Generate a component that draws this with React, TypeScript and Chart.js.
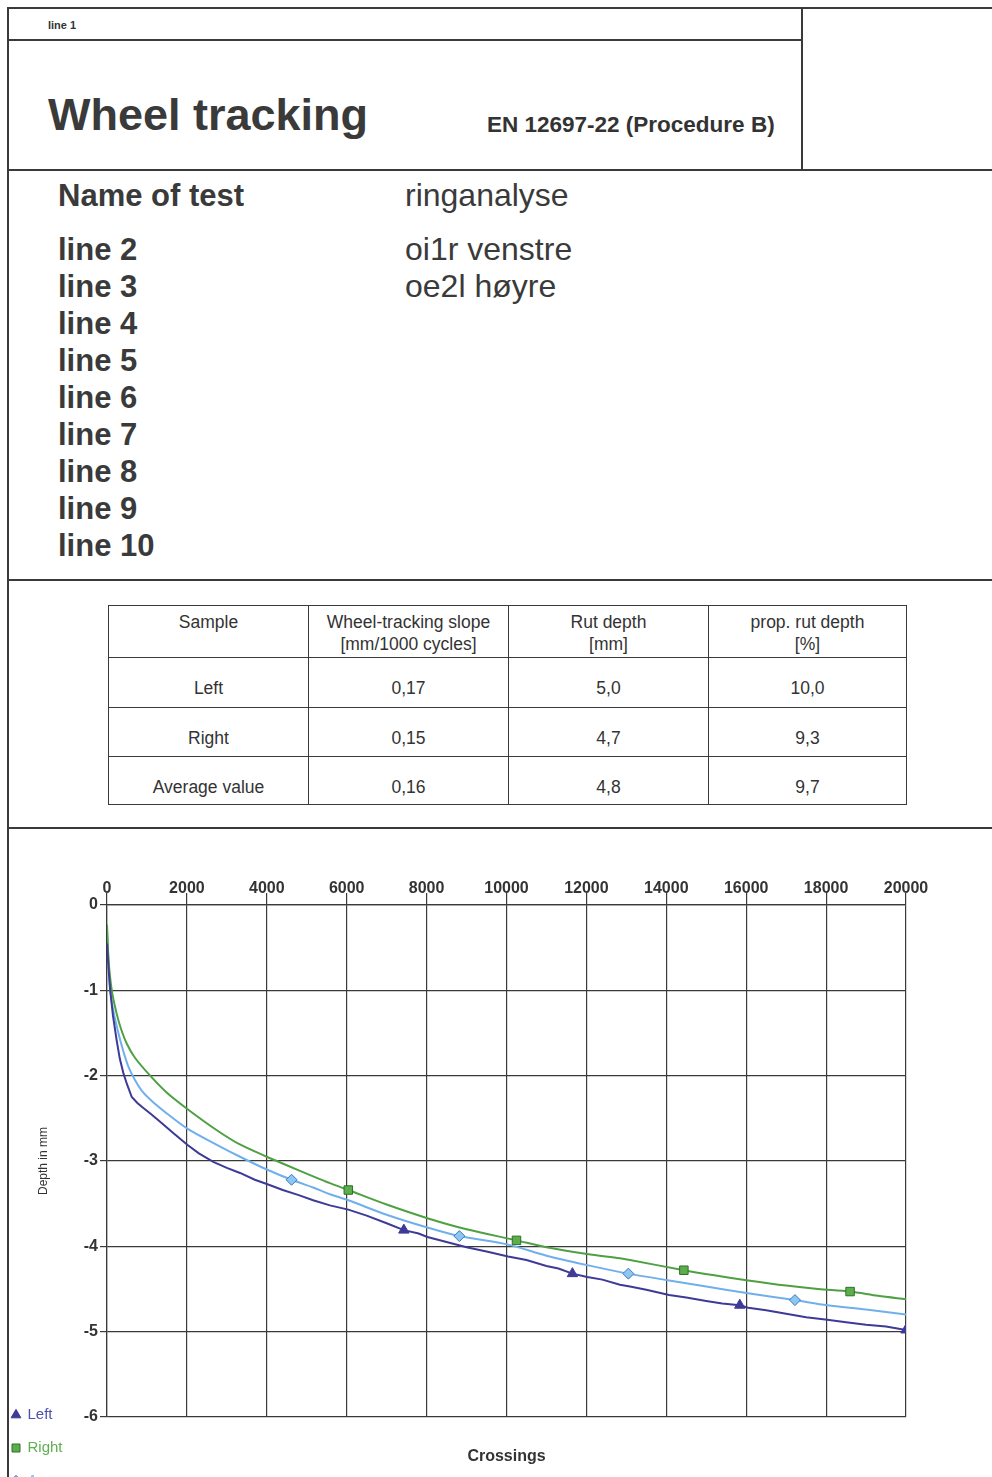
import React, { useEffect, useRef } from "react";
import { Chart, registerables } from "chart.js";

Chart.register(...registerables);

// ---------- data ----------
const SERIES_NAMES = ["Left", "Right", "Average"];

const LEFT_CROSSINGS = [0, 40, 80, 150, 240, 320, 410, 500, 620, 760, 910, 1100, 1330, 1650, 2010, 2300, 2660, 3000, 3330, 3700, 4000, 4400, 4800, 5160, 5580, 6040, 6500, 7000, 7430, 7800, 8020, 8500, 9000, 9500, 10040, 10500, 11000, 11300, 11650, 12020, 12400, 12840, 13090, 13500, 14070, 14500, 15000, 15400, 15840, 16050, 16500, 17000, 17500, 18030, 18500, 19000, 19500, 20000];
const LEFT_DEPTH = [-0.45, -0.75, -1.0, -1.3, -1.58, -1.8, -1.97, -2.1, -2.25, -2.32, -2.38, -2.45, -2.54, -2.67, -2.81, -2.91, -3.01, -3.08, -3.14, -3.22, -3.27, -3.34, -3.4, -3.46, -3.52, -3.57, -3.64, -3.73, -3.81, -3.85, -3.89, -3.95, -4.01, -4.06, -4.12, -4.16, -4.23, -4.26, -4.32, -4.36, -4.39, -4.45, -4.47, -4.51, -4.57, -4.6, -4.64, -4.67, -4.69, -4.72, -4.75, -4.79, -4.83, -4.86, -4.89, -4.92, -4.94, -4.98];

const RIGHT_CROSSINGS = [0, 40, 120, 240, 350, 490, 700, 1080, 1500, 2010, 2750, 3300, 4000, 4500, 5160, 5580, 6040, 7000, 8020, 9000, 10250, 11000, 12020, 12840, 13090, 14440, 15200, 16050, 17000, 17800, 18600, 19300, 20000];
const RIGHT_DEPTH = [-0.23, -0.65, -1.0, -1.27, -1.45, -1.62, -1.79, -2.0, -2.2, -2.39, -2.64, -2.8, -2.95, -3.05, -3.18, -3.26, -3.34, -3.51, -3.67, -3.8, -3.93, -4.01, -4.09, -4.14, -4.16, -4.28, -4.34, -4.4, -4.46, -4.5, -4.53, -4.58, -4.62];

const AVG_CROSSINGS = [0, 40, 80, 150, 285, 400, 540, 700, 910, 1200, 1490, 2010, 2750, 3330, 4000, 4620, 5160, 5580, 6040, 7000, 8020, 8820, 10040, 11000, 12020, 13050, 14070, 15000, 16050, 17220, 18030, 19000, 20000];
const AVG_DEPTH = [-0.29, -0.7, -1.0, -1.22, -1.5, -1.7, -1.9, -2.05, -2.2, -2.33, -2.44, -2.62, -2.81, -2.95, -3.1, -3.22, -3.31, -3.39, -3.46, -3.63, -3.78, -3.88, -3.98, -4.11, -4.22, -4.32, -4.4, -4.47, -4.55, -4.63, -4.69, -4.74, -4.8];

const LEFT_MARKERS = [7430, 11650, 15840, 20000];
const RIGHT_MARKERS = [6040, 10250, 14440, 18600];
const AVG_MARKERS = [4620, 8820, 13050, 17220];

const X_MIN = 0;
const X_MAX = 20000;
const X_STEP = 2000;
const Y_MIN = -6;
const Y_MAX = 0;
const Y_STEP = 1;

const X_TITLE = "Crossings";
const Y_TITLE = "Depth in mm";

const TABLE_HEADERS = [["Sample"], ["Wheel-tracking slope", "[mm/1000 cycles]"], ["Rut depth", "[mm]"], ["prop. rut depth", "[%]"]];
const TABLE_SAMPLES = ["Left", "Right", "Average value"];
const TABLE_SLOPE = ["0,17", "0,15", "0,16"];
const TABLE_RUT = ["5,0", "4,7", "4,8"];
const TABLE_PROP = ["10,0", "9,3", "9,7"];

const INFO_LABELS = ["line 2", "line 3", "line 4", "line 5", "line 6", "line 7", "line 8", "line 9", "line 10"];
const INFO_VALUES = ["oi1r venstre", "oe2l høyre"];

// ---------- styles ----------
const FONT = '"Liberation Sans", Arial, Helvetica, sans-serif';
const NAVY = "#3d3a98";
const GREEN = "#4fa043";
const LIGHT = "#6fb0ec";
const TEXT = "#333";
const LINE = "#3a3a3a";
const LEGEND_TEXT = ["#4f4fae", "#5fae52", "#7ab6ee"];

const toPoints = (xs: number[], ys: number[]) => xs.map((x, i) => ({ x, y: ys[i] }));

function ChartBlock() {
  const ref = useRef<HTMLCanvasElement | null>(null);
  useEffect(() => {
    if (!ref.current) return;
    const markerRadius = (list: number[], r: number) => (ctx: any) =>
      ctx.raw && list.includes(ctx.raw.x) ? r : 0;
    const chart = new Chart(ref.current, {
      type: "line",
      data: {
        datasets: [
          {
            label: SERIES_NAMES[0],
            data: toPoints(LEFT_CROSSINGS, LEFT_DEPTH),
            borderColor: NAVY,
            backgroundColor: NAVY,
            borderWidth: 2,
            tension: 0,
            pointStyle: "triangle",
            pointBackgroundColor: NAVY,
            pointBorderColor: NAVY,
            pointBorderWidth: 1,
            pointRadius: markerRadius(LEFT_MARKERS, 6),
          },
          {
            label: SERIES_NAMES[1],
            data: toPoints(RIGHT_CROSSINGS, RIGHT_DEPTH),
            borderColor: GREEN,
            backgroundColor: "#5cae4c",
            borderWidth: 2,
            tension: 0.3,
            pointStyle: "rect",
            pointBackgroundColor: "#5cae4c",
            pointBorderColor: "#2f6f2a",
            pointBorderWidth: 1,
            pointRadius: markerRadius(RIGHT_MARKERS, 6),
          },
          {
            label: SERIES_NAMES[2],
            data: toPoints(AVG_CROSSINGS, AVG_DEPTH),
            borderColor: LIGHT,
            backgroundColor: "#8ec6f2",
            borderWidth: 2,
            tension: 0.3,
            pointStyle: "rectRot",
            pointBackgroundColor: "#8ec6f2",
            pointBorderColor: "#3a78c0",
            pointBorderWidth: 1,
            pointRadius: markerRadius(AVG_MARKERS, 5.5),
          },
        ],
      },
      options: {
        animation: false,
        responsive: false,
        devicePixelRatio: 1,
        layout: { padding: { left: 0, right: 86, top: 45, bottom: 13.5 } },
        plugins: {
          tooltip: { enabled: false },
          legend: {
            display: true,
            position: "left",
            align: "end",
            maxWidth: 83,
            labels: {
              usePointStyle: true,
              boxWidth: 8,
              boxHeight: 8,
              padding: 18,
              font: { family: FONT, size: 15 },
              generateLabels: (c: any) => {
                const items = (Chart.defaults as any).plugins.legend.labels.generateLabels(c);
                return items.map((it: any, i: number) => ({ ...it, fontColor: LEGEND_TEXT[i] }));
              },
            },
          },
        },
        scales: {
          x: {
            type: "linear",
            position: "top",
            min: X_MIN,
            max: X_MAX,
            ticks: {
              stepSize: X_STEP,
              autoSkip: false,
              maxRotation: 0,
              padding: -5,
              color: TEXT,
              font: { family: FONT, size: 16, weight: "bold" },
              callback: (v: any) => String(v),
            },
            grid: { color: LINE, lineWidth: 1.2, tickLength: 12, tickColor: LINE },
            border: { color: LINE, width: 1.2 },
            afterFit: (s: any) => {
              s.height = 30;
            },
          },
          x2: {
            type: "linear",
            position: "bottom",
            display: true,
            min: 0,
            max: 1,
            ticks: { display: false },
            grid: { display: false, drawTicks: false },
            border: { display: false },
            title: {
              display: true,
              text: X_TITLE,
              color: TEXT,
              font: { family: FONT, size: 16, weight: "bold" },
              padding: { top: 30.4, bottom: 39.9 },
            },
          },
          y: {
            type: "linear",
            position: "left",
            min: Y_MIN,
            max: Y_MAX,
            ticks: {
              stepSize: Y_STEP,
              padding: 2,
              color: TEXT,
              font: { family: FONT, size: 16, weight: "bold" },
            },
            grid: { color: LINE, lineWidth: 1.2, tickLength: 7, tickColor: LINE },
            border: { color: LINE, width: 1.2 },
            title: {
              display: true,
              text: Y_TITLE,
              color: TEXT,
              font: { family: FONT, size: 12 },
              padding: { top: -40.2, bottom: 0 },
            },
            afterFit: (s: any) => {
              s.width = 30;
            },
          },
        },
      } as any,
    });
    return () => chart.destroy();
  }, []);
  return (
    <canvas
      ref={ref}
      width={998}
      height={690}
      style={{ position: "absolute", left: -6, top: 830, width: 998, height: 690 }}
    />
  );
}

const hLine = (x: number, y: number, w: number, t = 1.5) => (
  <div style={{ position: "absolute", left: x, top: y, width: w, height: t, background: LINE }} />
);
const vLine = (x: number, y: number, h: number, t = 1.5) => (
  <div style={{ position: "absolute", left: x, top: y, width: t, height: h, background: LINE }} />
);

export default function App() {
  const infoCenters = [249, 286, 323, 360, 397, 434, 471, 508, 545];
  const rowHeights = [52, 50, 49, 48];
  const colWidths = [200, 200, 200, 198];
  const rows = TABLE_SAMPLES.map((s, i) => [s, TABLE_SLOPE[i], TABLE_RUT[i], TABLE_PROP[i]]);
  const cellBase: React.CSSProperties = {
    border: `1.3px solid ${LINE}`,
    textAlign: "center",
    verticalAlign: "top",
    fontSize: 17.5,
    lineHeight: "22px",
    padding: 0,
    color: TEXT,
  };
  return (
    <div
      style={{
        position: "absolute",
        left: 0,
        top: 0,
        width: 992,
        height: 1477,
        overflow: "hidden",
        background: "#fff",
        fontFamily: FONT,
        color: TEXT,
      }}
    >
      <ChartBlock />

      {/* frame lines */}
      {hLine(8, 7, 984)}
      {hLine(8, 39, 795)}
      {vLine(801, 7, 164)}
      {hLine(8, 169, 984)}
      {hLine(8, 579, 984)}
      {hLine(8, 827, 984)}
      {vLine(7, 7, 1470)}

      {/* header */}
      <div style={{ position: "absolute", left: 48, top: 20, fontSize: 11, lineHeight: "11px", fontWeight: "bold" }}>line 1</div>
      <div style={{ position: "absolute", left: 48, top: 92, fontSize: 45, lineHeight: "45px", fontWeight: "bold", color: "#3a3a3a", whiteSpace: "nowrap" }}>
        Wheel tracking
      </div>
      <div style={{ position: "absolute", left: 487, top: 114, fontSize: 22.5, lineHeight: "22px", fontWeight: "bold", whiteSpace: "nowrap" }}>
        EN 12697-22 (Procedure B)
      </div>

      {/* info */}
      <div style={{ position: "absolute", left: 58, top: 195 - 15, fontSize: 31, lineHeight: "31px", fontWeight: "bold", color: "#3a3a3a", whiteSpace: "nowrap" }}>
        Name of test
      </div>
      <div style={{ position: "absolute", left: 405, top: 195 - 16, fontSize: 32, lineHeight: "32px", color: "#3a3a3a", whiteSpace: "nowrap" }}>
        ringanalyse
      </div>
      {INFO_LABELS.map((l, i) => (
        <div
          key={l}
          style={{ position: "absolute", left: 58, top: infoCenters[i] - 15, fontSize: 31, lineHeight: "31px", fontWeight: "bold", color: "#3a3a3a", whiteSpace: "nowrap" }}
        >
          {l}
        </div>
      ))}
      {INFO_VALUES.map((v, i) => (
        <div
          key={v}
          style={{ position: "absolute", left: 405, top: infoCenters[i] - 16, fontSize: 32, lineHeight: "32px", color: "#3a3a3a", whiteSpace: "nowrap" }}
        >
          {v}
        </div>
      ))}

      {/* table */}
      <table
        style={{
          position: "absolute",
          left: 108,
          top: 605,
          borderCollapse: "collapse",
          tableLayout: "fixed",
          width: 798,
          fontFamily: FONT,
        }}
      >
        <colgroup>
          {colWidths.map((w, i) => (
            <col key={i} style={{ width: w }} />
          ))}
        </colgroup>
        <tbody>
          <tr style={{ height: rowHeights[0] }}>
            {TABLE_HEADERS.map((h, i) => (
              <td key={i} style={{ ...cellBase, paddingTop: 5 }}>
                {h.map((line, j) => (
                  <div key={j}>{line}</div>
                ))}
              </td>
            ))}
          </tr>
          {rows.map((r, i) => (
            <tr key={i} style={{ height: rowHeights[i + 1] }}>
              {r.map((c, j) => (
                <td key={j} style={{ ...cellBase, paddingTop: 19 }}>
                  {c}
                </td>
              ))}
            </tr>
          ))}
        </tbody>
      </table>
    </div>
  );
}
